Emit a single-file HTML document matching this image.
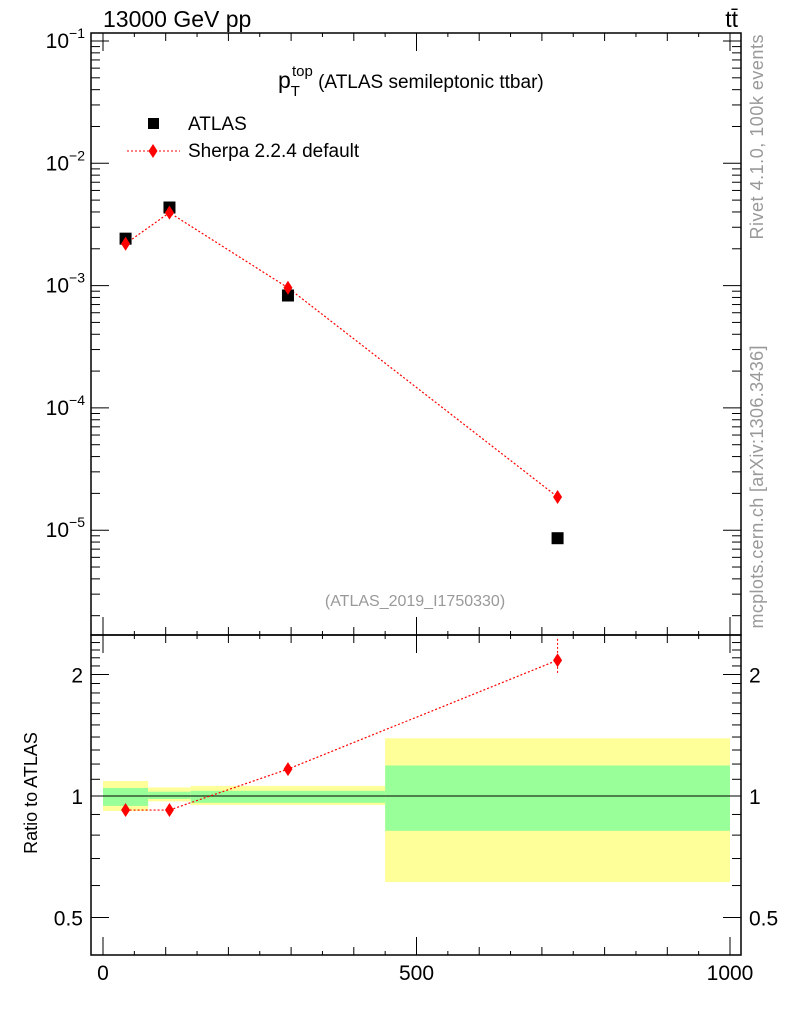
<!DOCTYPE html>
<html><head><meta charset="utf-8"><style>
body{margin:0;background:#fff;width:786px;height:1024px;overflow:hidden;font-family:"Liberation Sans",sans-serif}
</style></head><body>
<svg id="c" width="786" height="1024" xmlns="http://www.w3.org/2000/svg" font-family="Liberation Sans, sans-serif"></svg>
<script>
const binEdges=[0,72,140,450,1000];
const xCenters=[36,106,295,725];
const atlasVals=[2.42e-3,4.35e-3,8.3e-4,8.6e-6];
const sherpaVals=[2.2e-3,3.95e-3,9.6e-4,1.87e-5];
const ratioVals=[0.923,0.923,1.166,2.17];
const ratioErrUp=[0,0,0,2.45];
const ratioErrDn=[0,0,0,2.0];
const yellowHi=[1.089,1.05,1.059,1.39];
const yellowLo=[0.918,0.97,0.95,0.612];
const greenHi=[1.047,1.025,1.03,1.19];
const greenLo=[0.945,0.983,0.962,0.82];
const xTicks=[0,500,1000];
const mainTicks=[-1,-2,-3,-4,-5];
const ratioTicks=[0.5,1,2];

const NS="http://www.w3.org/2000/svg";
const svg=document.getElementById('c');
function el(t,a,p){const e=document.createElementNS(NS,t);for(const k in a)e.setAttribute(k,a[k]);(p||svg).appendChild(e);return e;}
const X=v=>103+v*0.627;
const YM=v=>41+(-1-Math.log10(v))*122.3;
const YR=v=>796-Math.log2(v)*121.5;
const L=91,R=741,T=33,M=635,B=955;

for(let i=0;i<4;i++){
  const y=el('rect',{x:X(binEdges[i]),y:YR(yellowHi[i]),width:X(binEdges[i+1])-X(binEdges[i]),height:YR(yellowLo[i])-YR(yellowHi[i]),fill:'#ffff99'});
  
  const g=el('rect',{x:X(binEdges[i]),y:YR(greenHi[i]),width:X(binEdges[i+1])-X(binEdges[i]),height:YR(greenLo[i])-YR(greenHi[i]),fill:'#99ff99'});
  
}
el('line',{x1:L,x2:R,y1:YR(1),y2:YR(1),stroke:'#000','stroke-width':1});

el('rect',{x:L,y:T,width:R-L,height:M-T,fill:'none',stroke:'#000','stroke-width':1.5});
el('rect',{x:L,y:M,width:R-L,height:B-M,fill:'none',stroke:'#000','stroke-width':1.5});

for(let d=-6;d<=-1;d++){for(let m=1;m<10;m++){const v=m*Math.pow(10,d);const y=YM(v);if(y<T||y>M)continue;const len=m==1?18:9;
 el('line',{x1:L,x2:L+len,y1:y,y2:y,stroke:'#000'});el('line',{x1:R,x2:R-len,y1:y,y2:y,stroke:'#000'});}}
mainTicks.forEach(d=>{const t=el('text',{x:L-6,y:YM(Math.pow(10,d))+7,'text-anchor':'end','font-size':21});
 t.innerHTML='10<tspan dy="-10" font-size="14">'+(d==-1?'−1':'−'+(-d))+'</tspan>';});
for(let v=0.4;v<=2.5;v+=0.1){const y=YR(v);if(y<M||y>B)continue;const maj=Math.abs(v-0.5)<1e-6||Math.abs(v-1)<1e-6||Math.abs(v-2)<1e-6;const len=maj?18:9;
 el('line',{x1:L,x2:L+len,y1:y,y2:y,stroke:'#000'});el('line',{x1:R,x2:R-len,y1:y,y2:y,stroke:'#000'});}
ratioTicks.forEach(v=>{[[L-8,'end'],[R+8,'start']].forEach(([x,a])=>{const t=el('text',{x:x,y:YR(v)+8,'text-anchor':a,'font-size':21});t.textContent=String(v);});});
for(let v=0;v<=1000;v+=50){const x=X(v);const len=v%500==0?18:(v%100==0?8:4);
 [T,M].forEach(y=>el('line',{x1:x,x2:x,y1:y,y2:y+len,stroke:'#000'}));
 [M,B].forEach(y=>el('line',{x1:x,x2:x,y1:y,y2:y-len,stroke:'#000'}));}
xTicks.forEach(v=>{const t=el('text',{x:X(v),y:980,'text-anchor':'middle','font-size':21});t.textContent=v;});

const ml=el('polyline',{points:xCenters.map((x,i)=>X(x)+','+YM(sherpaVals[i])).join(' '),fill:'none',stroke:'#ff0000','stroke-width':1.2,'stroke-dasharray':'2,2'});

atlasVals.forEach((v,i)=>{const r=el('rect',{x:X(xCenters[i])-6,y:YM(v)-6,width:12,height:12,fill:'#000'});});
const dia=(x,y)=>`${x},${y-7} ${x+4.5},${y} ${x},${y+7} ${x-4.5},${y}`;
sherpaVals.forEach((v,i)=>{const p=el('polygon',{points:dia(X(xCenters[i]),YM(v)),fill:'#ff0000'});});
const rl=el('polyline',{points:xCenters.map((x,i)=>X(x)+','+YR(ratioVals[i])).join(' '),fill:'none',stroke:'#ff0000','stroke-width':1.2,'stroke-dasharray':'2,2'});

ratioVals.forEach((v,i)=>{if(ratioErrUp[i])el('line',{x1:X(xCenters[i]),x2:X(xCenters[i]),y1:YR(ratioErrUp[i]),y2:YR(ratioErrDn[i]),stroke:'#ff0000','stroke-dasharray':'2,2'});
 const p=el('polygon',{points:dia(X(xCenters[i]),YR(v)),fill:'#ff0000'});});

function txt(s,a,name){const t=el('text',a);t.innerHTML=s;return t;}
txt('13000 GeV pp',{x:103,y:27,'font-size':23},'energy-label');
txt('tt̄',{x:738,y:27,'font-size':23,'text-anchor':'end'},'process-label');
txt('p<tspan dy="8" font-size="15">T</tspan><tspan dy="-20" font-size="15" dx="-8">top</tspan><tspan dy="12" font-size="19"> (ATLAS semileptonic ttbar)</tspan>',{x:278,y:88,'font-size':23},'plot-title');
el('rect',{x:148,y:118,width:11,height:11,fill:'#000'});
txt('ATLAS',{x:188,y:130,'font-size':19},'legend-atlas');
el('line',{x1:127,x2:180,y1:151,y2:151,stroke:'#ff0000','stroke-dasharray':'2,2'});
el('polygon',{points:dia(153,151),fill:'#ff0000'});
txt('Sherpa 2.2.4 default',{x:188,y:157,'font-size':19},'legend-sherpa');
txt('(ATLAS_2019_I1750330)',{x:415,y:606,'font-size':16,fill:'#999','text-anchor':'middle'},'analysis-id');
txt('Ratio to ATLAS',{x:0,y:0,'font-size':18,'text-anchor':'middle',transform:'translate(37,793) rotate(-90)'},'y-axis-title');
txt('Rivet 4.1.0,  100k events',{x:0,y:0,'font-size':18,fill:'#999','text-anchor':'middle',textLength:205,transform:'translate(763,137) rotate(-90)'},'rivet-label');
txt('mcplots.cern.ch [arXiv:1306.3436]',{x:0,y:0,'font-size':18,fill:'#999','text-anchor':'middle',textLength:283,transform:'translate(763,487) rotate(-90)'},'mcplots-label');
</script>
</body></html>
